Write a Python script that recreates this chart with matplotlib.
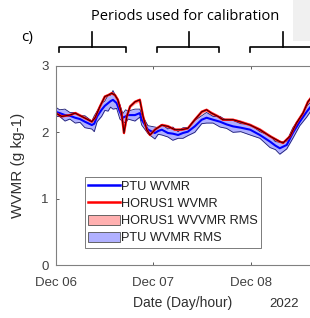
import matplotlib
matplotlib.use("Agg")
import matplotlib.pyplot as plt
from matplotlib.lines import Line2D
from matplotlib.patches import Rectangle, Patch

# hours since Dec 06 00:00
red_hours = [0, 1.5, 3.5, 4.8, 6.4, 8.0, 8.9, 9.7, 10.9, 12.1, 12.9, 13.8, 14.6, 15.3,
             16.2, 16.8, 17.5, 18.3, 19.5, 20.7, 21.5, 22.4, 23.2, 24.4, 26.1, 27.6,
             29.3, 31.0, 32.5, 34.2, 35.9, 37.1, 38.3, 39.9, 41.1, 43.6, 45.3, 47.8,
             50.2, 52.7, 55.1, 55.9, 57.6, 59.2, 60.8, 62.0, 64.0, 66.0]
red_wvmr = [2.29, 2.24, 2.26, 2.29, 2.24, 2.19, 2.16, 2.22, 2.39, 2.54, 2.56, 2.59, 2.56, 2.49,
            2.29, 1.99, 2.24, 2.39, 2.46, 2.49, 2.24, 2.04, 1.96, 2.04, 2.11, 2.09,
            2.04, 2.04, 2.06, 2.19, 2.31, 2.34, 2.29, 2.24, 2.19, 2.19, 2.16, 2.11,
            2.04, 1.94, 1.86, 1.84, 1.94, 2.14, 2.29, 2.46, 2.62, 2.70]
red_rms = [0.03, 0.03, 0.02, 0.03, 0.03, 0.02, 0.03, 0.03, 0.03, 0.03, 0.02, 0.03, 0.03, 0.03,
           0.03, 0.03, 0.03, 0.02, 0.03, 0.03, 0.03, 0.03, 0.02, 0.03, 0.03, 0.03,
           0.02, 0.03, 0.03, 0.03, 0.03, 0.02, 0.03, 0.03, 0.03, 0.02, 0.03, 0.03,
           0.03, 0.03, 0.02, 0.03, 0.03, 0.03, 0.03, 0.03, 0.03, 0.03]

ptu_hours = [0, 1.0, 2.3, 3.5, 4.8, 6.0, 7.2, 8.9, 9.5, 10.2, 11.3, 12.1, 12.9, 13.5, 14.1,
             15.0, 15.8, 16.5, 17.2, 17.8, 19.5, 20.7, 21.15, 22.7, 24.4, 25.2, 26.1,
             27.6, 28.8, 30.1, 31.3, 32.5, 34.2, 35.9, 37.1, 38.7, 40.4, 42.0, 43.6,
             45.5, 47.8, 50.2, 52.7, 54.0, 55.1, 56.8, 58.3, 60.0, 61.7, 63.5, 66.0]
ptu_wvmr = [2.31, 2.29, 2.26, 2.25, 2.22, 2.20, 2.16, 2.11, 2.13, 2.24, 2.34, 2.40, 2.44, 2.47, 2.49,
            2.44, 2.31, 2.22, 2.24, 2.26, 2.26, 2.29, 2.19, 2.04, 1.99, 2.02, 2.04,
            1.99, 1.98, 1.96, 1.99, 2.01, 2.09, 2.19, 2.22, 2.19, 2.16, 2.12, 2.09,
            2.07, 2.04, 1.96, 1.86, 1.80, 1.76, 1.81, 1.99, 2.16, 2.31, 2.45, 2.58]
ptu_rms = [0.07, 0.05, 0.09, 0.05, 0.08, 0.05, 0.09, 0.06, 0.12, 0.08, 0.10, 0.07, 0.12, 0.09, 0.14,
           0.08, 0.11, 0.06, 0.10, 0.06, 0.09, 0.06, 0.08, 0.06, 0.09, 0.05, 0.08,
           0.06, 0.10, 0.05, 0.08, 0.06, 0.09, 0.06, 0.08, 0.05, 0.08, 0.06, 0.09,
           0.06, 0.08, 0.05, 0.09, 0.06, 0.09, 0.06, 0.08, 0.06, 0.08, 0.06, 0.07]

tick_hours = [0, 24, 48]
tick_labels = ["Dec 06", "Dec 07", "Dec 08"]

plt.rcParams["font.family"] = ["Liberation Sans", "DejaVu Sans"]

W, H = 310, 318
fig = plt.figure(figsize=(W / 100, H / 100), dpi=100)


def fx(px):
    return px / W


def fy(py):
    return 1 - py / H


# axes run past the right edge of the picture, like the cropped original
ax = fig.add_axes([fx(55.6), fy(265), fx(293), fy(66) - fy(265)])

ptu_lo = [v - r for v, r in zip(ptu_wvmr, ptu_rms)]
ptu_hi = [v + r for v, r in zip(ptu_wvmr, ptu_rms)]
red_lo = [v - r for v, r in zip(red_wvmr, red_rms)]
red_hi = [v + r for v, r in zip(red_wvmr, red_rms)]

ax.fill_between(red_hours, red_lo, red_hi, color="#ffb0b0", lw=0)
ax.fill_between(ptu_hours, ptu_lo, ptu_hi, color="#b0b0ff", lw=0)
ax.plot(ptu_hours, ptu_lo, color="#1a1a70", lw=0.6)
ax.plot(ptu_hours, ptu_hi, color="#1a1a70", lw=0.6)
ax.plot(ptu_hours, ptu_wvmr, color="#0000ff", lw=1.5)
ax.plot(red_hours, red_wvmr, color="#ff0000", lw=1.7)
ax.plot(red_hours, red_wvmr, color="black", lw=0.5)

ax.set_xlim(0, 72)
ax.set_ylim(0, 3)
ax.set_xticks(tick_hours)
ax.set_xticklabels(tick_labels)
ax.set_yticks([0, 1, 2, 3])
ax.tick_params(direction="in", length=2, width=0.6, colors="#404040",
               top=True, right=True)
ax.tick_params(axis="x", labelsize=9.5, pad=9)
ax.tick_params(axis="y", labelsize=9.5, pad=5)
for s in ax.spines.values():
    s.set_color("#808080")
    s.set_linewidth(0.8)

ax.set_xlabel("Date (Day/hour)", fontsize=10, color="#303030", va="center")
ax.xaxis.set_label_coords((183 - 55.6) / 293, (265 - 303) / 199)
ax.set_ylabel("WVMR (g kg-1)", fontsize=11, color="#303030")
ax.yaxis.set_label_coords((25 - 55.6) / 293, 0.5)
fig.text(fx(284), fy(304), "2022", fontsize=9.5, color="#303030", ha="center", va="center")

handles = [
    Line2D([], [], color="#0000ff", lw=1.8),
    Line2D([], [], color="#ff0000", lw=1.8),
    Patch(facecolor="#ffb0b0", edgecolor="#505050", lw=0.6),
    Patch(facecolor="#b0b0ff", edgecolor="#505050", lw=0.6),
]
labels = ["PTU WVMR", "HORUS1 WVMR", "HORUS1 WVVMR RMS", "PTU WVMR RMS"]
leg = fig.legend(handles, labels, loc="upper left", bbox_to_anchor=(fx(85), fy(177)),
                 prop={"size": 9.2}, frameon=True, fancybox=False, borderpad=0.25,
                 labelspacing=0.35, handlelength=2.5, handleheight=0.9,
                 handletextpad=0.1, borderaxespad=0)
for t in leg.get_texts():
    t.set_color("#202020")
leg.get_frame().set_edgecolor("#404040")
leg.get_frame().set_linewidth(0.6)

# annotations above the plot
fig.add_artist(Rectangle((fx(293), fy(41)), fx(20), fy(0) - fy(41),
                         facecolor="#f0f0f0", edgecolor="none"))
fig.text(fx(185), fy(16), "Periods used for calibration", fontsize=10.5,
         family=["Open Sans", "DejaVu Sans"], ha="center", va="center")
fig.text(fx(27), fy(37), "c)", fontsize=11,
         family=["Open Sans", "DejaVu Sans"], ha="center", va="center")

for left, right, stem in [(59, 126, 92), (157, 219, 189), (250, 360, 283)]:
    fig.add_artist(Line2D([fx(left), fx(left), fx(right), fx(right)],
                          [fy(52), fy(47), fy(47), fy(52)], color="black", lw=1.2))
    fig.add_artist(Line2D([fx(stem), fx(stem)], [fy(47), fy(32)], color="black", lw=1.2))

fig.savefig("out.png", dpi=100)
